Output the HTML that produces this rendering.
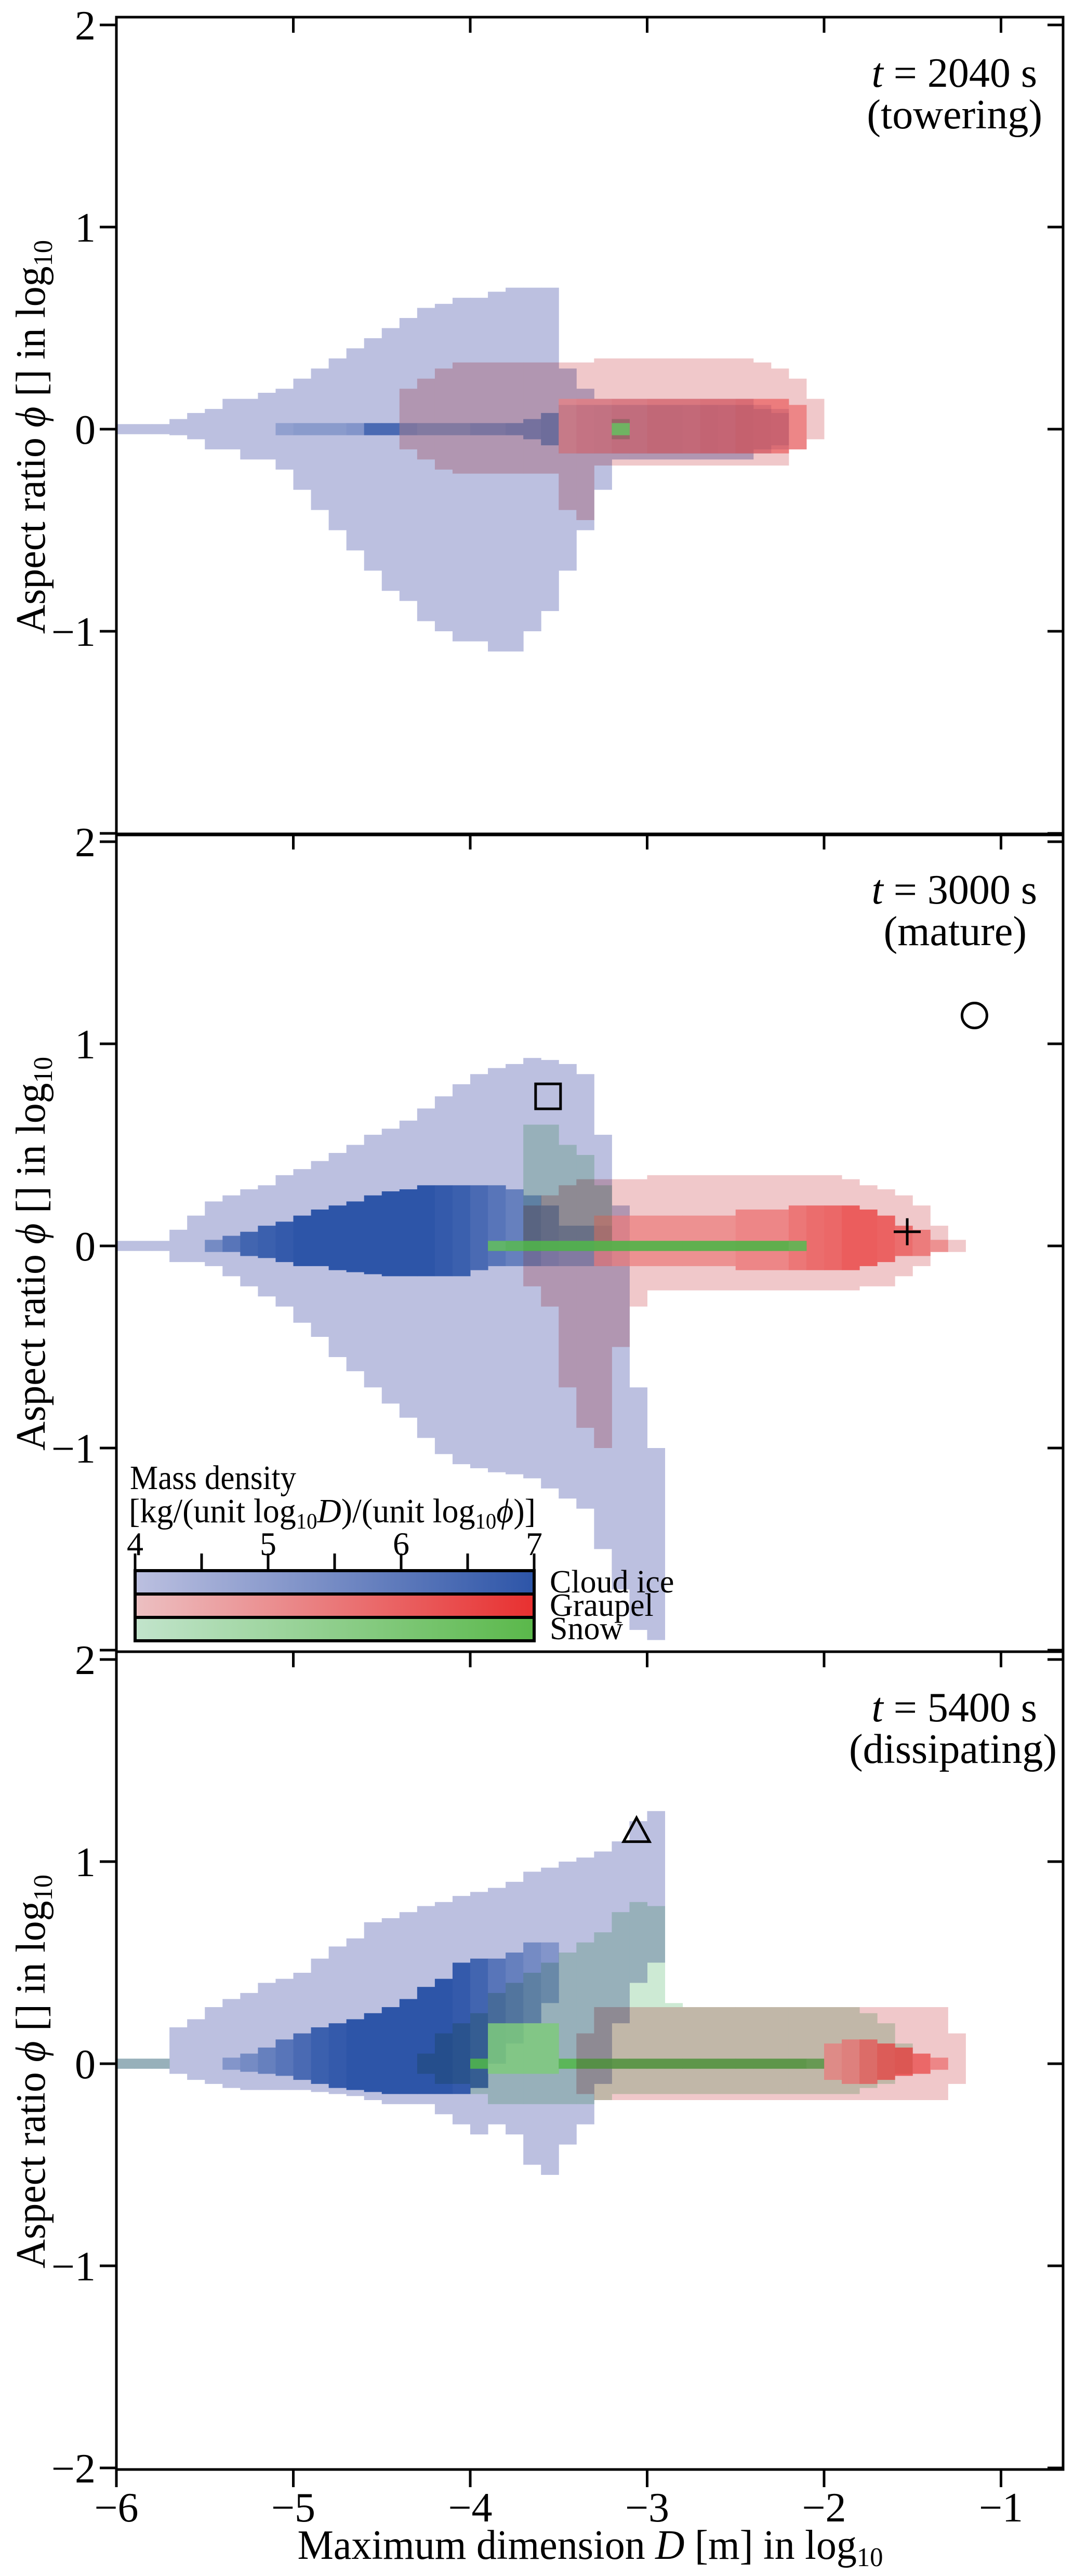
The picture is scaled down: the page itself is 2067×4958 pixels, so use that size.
<!DOCTYPE html>
<html><head><meta charset="utf-8">
<style>
html,body{margin:0;padding:0;background:#fff;}
svg{display:block;font-family:"Liberation Serif","DejaVu Serif",serif;}
</style></head>
<body>
<svg id="fig" width="2067" height="4958" viewBox="0 0 2067 4958" xmlns="http://www.w3.org/2000/svg">
<defs>
<linearGradient id="gIce" x1="0" x2="1"><stop offset="0" stop-color="#bcc0e0"/><stop offset="1" stop-color="#2d55a8"/></linearGradient>
<linearGradient id="gGra" x1="0" x2="1"><stop offset="0" stop-color="#ecc0c2"/><stop offset="1" stop-color="#e83030"/></linearGradient>
<linearGradient id="gSno" x1="0" x2="1"><stop offset="0" stop-color="#c2e4cc"/><stop offset="1" stop-color="#5ab84a"/></linearGradient>
</defs>
<rect x="0" y="0" width="2067" height="4958" fill="#fff"/>
<g id="cells" style="isolation:isolate"></g>
<g id="axes"></g>
</svg>
<script>
// ---- data (column start in log10 D, step 0.1) ----
// Panel 1 (t=2040 s)
const p1IceX   = [-6.0,-5.9,-5.8,-5.7,-5.6,-5.5,-5.4,-5.3,-5.2,-5.1,-5.0,-4.9,-4.8,-4.7,-4.6,-4.5,-4.4,-4.3,-4.2,-4.1,-4.0,-3.9,-3.8,-3.7,-3.6,-3.5,-3.4,-3.3,-3.2,-3.1,-3.0,-2.9,-2.8,-2.7,-2.6,-2.5,-2.4,-2.3];
const p1IceTop = [0.025,0.025,0.025,0.05,0.08,0.1,0.15,0.15,0.18,0.2,0.25,0.3,0.35,0.4,0.45,0.5,0.55,0.6,0.62,0.65,0.65,0.68,0.7,0.7,0.7,0.3,0.2,0.15,0.15,0.15,0.15,0.15,0.15,0.15,0.15,0.15,0.12,0.1];
const p1IceBot = [-0.025,-0.025,-0.025,-0.03,-0.05,-0.1,-0.1,-0.15,-0.15,-0.2,-0.3,-0.4,-0.5,-0.6,-0.7,-0.8,-0.85,-0.95,-1.0,-1.05,-1.05,-1.1,-1.1,-1.0,-0.9,-0.7,-0.5,-0.3,-0.15,-0.15,-0.15,-0.15,-0.15,-0.15,-0.15,-0.15,-0.12,-0.1];
const p1IceCT  = [0,0,0,0,0,0,0,0,0,0.03,0.03,0.03,0.03,0.03,0.03,0.03,0.03,0.03,0.03,0.03,0.03,0.03,0.03,0.05,0.08,0.12,0.12,0.12,0.12,0.12,0.12,0.12,0.12,0.12,0.12,0.12,0.1,0.08];
const p1IceCB  = [0,0,0,0,0,0,0,0,0,-0.03,-0.03,-0.03,-0.03,-0.03,-0.03,-0.03,-0.03,-0.03,-0.03,-0.03,-0.03,-0.03,-0.03,-0.05,-0.08,-0.12,-0.12,-0.12,-0.12,-0.12,-0.12,-0.12,-0.12,-0.12,-0.12,-0.12,-0.1,-0.08];
const p1IceLv  = [0,0,0,0,0,0,0,0,0,0.3,0.35,0.35,0.35,0.4,0.8,0.8,0.4,0.35,0.35,0.35,0.4,0.4,0.45,0.45,0.5,0.5,0.55,0.6,0.6,0.6,0.6,0.6,0.55,0.55,0.5,0.5,0.45,0.4];
const p1GraX   = [-4.4,-4.3,-4.2,-4.1,-4.0,-3.9,-3.8,-3.7,-3.6,-3.5,-3.4,-3.3,-3.2,-3.1,-3.0,-2.9,-2.8,-2.7,-2.6,-2.5,-2.4,-2.3,-2.2,-2.1];
const p1GraTop = [0.2,0.25,0.3,0.33,0.33,0.33,0.33,0.33,0.33,0.33,0.33,0.35,0.35,0.35,0.35,0.35,0.35,0.35,0.35,0.35,0.33,0.3,0.25,0.15];
const p1GraBot = [-0.1,-0.15,-0.2,-0.22,-0.22,-0.22,-0.22,-0.22,-0.22,-0.4,-0.45,-0.18,-0.18,-0.18,-0.18,-0.18,-0.18,-0.18,-0.18,-0.18,-0.18,-0.18,-0.1,-0.05];
const p1GraCT  = [0,0,0,0,0,0,0,0,0,0.15,0.15,0.15,0.15,0.15,0.15,0.15,0.15,0.15,0.15,0.15,0.15,0.15,0.12,0];
const p1GraCB  = [0,0,0,0,0,0,0,0,0,-0.12,-0.12,-0.12,-0.12,-0.12,-0.12,-0.12,-0.12,-0.12,-0.12,-0.12,-0.12,-0.12,-0.1,0];
const p1GraLv  = [0,0,0,0,0,0,0,0,0,0.45,0.5,0.5,0.55,0.55,0.6,0.6,0.6,0.65,0.65,0.7,0.7,0.7,0.6,0];
const p1SnoX   = [-3.2];
const p1SnoTop = [0.05];
const p1SnoBot = [-0.05];
const p1SnoCT  = [0.03];
const p1SnoCB  = [-0.03];
const p1SnoLv  = [0.8];

// Panel 2 (t=3000 s)
const p2IceX   = [-6.0,-5.9,-5.8,-5.7,-5.6,-5.5,-5.4,-5.3,-5.2,-5.1,-5.0,-4.9,-4.8,-4.7,-4.6,-4.5,-4.4,-4.3,-4.2,-4.1,-4.0,-3.9,-3.8,-3.7,-3.6,-3.5,-3.4,-3.3,-3.2,-3.1,-3.0];
const p2IceTop = [0.025,0.025,0.025,0.08,0.15,0.22,0.25,0.28,0.3,0.35,0.38,0.42,0.46,0.5,0.55,0.58,0.62,0.68,0.74,0.8,0.85,0.88,0.9,0.93,0.92,0.9,0.85,0.55,0.2,-0.7,-1.0];
const p2IceBot = [-0.025,-0.025,-0.025,-0.08,-0.08,-0.1,-0.15,-0.2,-0.25,-0.3,-0.38,-0.45,-0.55,-0.62,-0.7,-0.78,-0.85,-0.95,-1.03,-1.08,-1.1,-1.12,-1.13,-1.15,-1.2,-1.25,-1.3,-1.5,-1.7,-1.9,-1.95];
const p2IceCT  = [0,0,0,0,0,0.03,0.05,0.07,0.1,0.12,0.15,0.18,0.2,0.22,0.25,0.27,0.28,0.3,0.3,0.3,0.3,0.3,0.28,0.25,0.2,0.1,0.1,0.1,0,0,0];
const p2IceCB  = [0,0,0,0,0,-0.03,-0.03,-0.05,-0.06,-0.08,-0.1,-0.1,-0.12,-0.13,-0.14,-0.15,-0.15,-0.15,-0.15,-0.15,-0.12,-0.1,-0.1,-0.1,-0.1,-0.1,-0.1,-0.1,0,0,0];
const p2IceLv  = [0,0,0,0,0,0.5,0.7,0.85,0.9,0.95,1,1,1,1,1,1,1,1,0.95,0.9,0.8,0.7,0.6,0.5,0.4,0.35,0.35,0.35,0,0,0];
const p2GraX   = [-3.7,-3.6,-3.5,-3.4,-3.3,-3.2,-3.1,-3.0,-2.9,-2.8,-2.7,-2.6,-2.5,-2.4,-2.3,-2.2,-2.1,-2.0,-1.9,-1.8,-1.7,-1.6,-1.5,-1.4,-1.3];
const p2GraTop = [0.2,0.25,0.3,0.33,0.33,0.33,0.33,0.35,0.35,0.35,0.35,0.35,0.35,0.35,0.35,0.35,0.35,0.35,0.33,0.3,0.28,0.25,0.2,0.1,0.03];
const p2GraBot = [-0.2,-0.3,-0.7,-0.9,-1.0,-0.5,-0.3,-0.22,-0.22,-0.22,-0.22,-0.22,-0.22,-0.22,-0.22,-0.22,-0.22,-0.22,-0.22,-0.2,-0.2,-0.15,-0.1,-0.03,-0.03];
const p2GraCT  = [0,0,0,0,0.15,0.15,0.15,0.15,0.15,0.15,0.15,0.15,0.18,0.18,0.18,0.2,0.2,0.2,0.2,0.18,0.15,0.1,0.08,0.03,0];
const p2GraCB  = [0,0,0,0,-0.1,-0.1,-0.1,-0.1,-0.1,-0.1,-0.1,-0.1,-0.12,-0.12,-0.12,-0.12,-0.12,-0.12,-0.12,-0.1,-0.08,-0.05,-0.05,-0.03,0];
const p2GraLv  = [0,0,0,0,0.5,0.5,0.5,0.5,0.5,0.5,0.5,0.5,0.6,0.6,0.6,0.75,0.85,0.9,1,1,0.95,0.85,0.7,0.5,0];
const p2SnoX   = [-3.9,-3.8,-3.7,-3.6,-3.5,-3.4,-3.3,-3.2,-3.1,-3.0,-2.9,-2.8,-2.7,-2.6,-2.5,-2.4,-2.3,-2.2];
const p2SnoTop = [0.025,0.025,0.6,0.6,0.5,0.45,0.3,0.025,0.025,0.025,0.025,0.025,0.025,0.025,0.025,0.025,0.025,0.025];
const p2SnoBot = [-0.025,-0.025,-0.025,-0.025,-0.025,-0.025,-0.025,-0.025,-0.025,-0.025,-0.025,-0.025,-0.025,-0.025,-0.025,-0.025,-0.025,-0.025];
const p2SnoCT  = [0.025,0.025,0.025,0.025,0.025,0.025,0.025,0.025,0.025,0.025,0.025,0.025,0.025,0.025,0.025,0.025,0.025,0.025];
const p2SnoCB  = [-0.025,-0.025,-0.025,-0.025,-0.025,-0.025,-0.025,-0.025,-0.025,-0.025,-0.025,-0.025,-0.025,-0.025,-0.025,-0.025,-0.025,-0.025];
const p2SnoLv  = [0.8,0.9,1,1,1,1,1,1,1,1,1,1,1,1,1,1,1,0.9];

// Panel 3 (t=5400 s)
const p3IceX   = [-6.0,-5.9,-5.8,-5.7,-5.6,-5.5,-5.4,-5.3,-5.2,-5.1,-5.0,-4.9,-4.8,-4.7,-4.6,-4.5,-4.4,-4.3,-4.2,-4.1,-4.0,-3.9,-3.8,-3.7,-3.6,-3.5,-3.4,-3.3,-3.2,-3.1,-3.0];
const p3IceTop = [0.025,0.025,0.025,0.18,0.22,0.28,0.32,0.35,0.4,0.42,0.45,0.52,0.58,0.62,0.7,0.72,0.75,0.78,0.8,0.83,0.85,0.87,0.9,0.95,0.97,1.0,1.02,1.05,1.1,1.2,1.25];
const p3IceBot = [-0.025,-0.025,-0.025,-0.05,-0.08,-0.1,-0.12,-0.13,-0.13,-0.13,-0.13,-0.14,-0.15,-0.16,-0.18,-0.2,-0.2,-0.2,-0.25,-0.3,-0.35,-0.3,-0.35,-0.5,-0.55,-0.4,-0.3,-0.1,0.2,0.4,0.5];
const p3IceCT  = [0,0,0,0,0,0,0.03,0.05,0.08,0.12,0.15,0.18,0.2,0.22,0.25,0.28,0.32,0.38,0.42,0.5,0.52,0.52,0.55,0.6,0.6,0,0,0,0,0,0];
const p3IceCB  = [0,0,0,0,0,0,-0.03,-0.04,-0.05,-0.06,-0.08,-0.1,-0.12,-0.13,-0.14,-0.15,-0.15,-0.15,-0.15,-0.15,-0.12,0.0,0.1,0.2,0.3,0,0,0,0,0,0];
const p3IceLv  = [0,0,0,0,0,0,0.4,0.5,0.6,0.7,0.8,0.9,0.95,1,1,1,1,1,1,0.95,0.85,0.7,0.6,0.5,0.4,0,0,0,0,0,0];
const p3GraX   = [-3.4,-3.3,-3.2,-3.1,-3.0,-2.9,-2.8,-2.7,-2.6,-2.5,-2.4,-2.3,-2.2,-2.1,-2.0,-1.9,-1.8,-1.7,-1.6,-1.5,-1.4,-1.3];
const p3GraTop = [0.15,0.28,0.28,0.28,0.28,0.28,0.28,0.28,0.28,0.28,0.28,0.28,0.28,0.28,0.28,0.28,0.28,0.28,0.28,0.28,0.28,0.15];
const p3GraBot = [-0.15,-0.18,-0.18,-0.18,-0.18,-0.18,-0.18,-0.18,-0.18,-0.18,-0.18,-0.18,-0.18,-0.18,-0.18,-0.18,-0.18,-0.18,-0.18,-0.18,-0.18,-0.1];
const p3GraCT  = [0,0,0,0,0,0,0,0,0,0,0,0,0,0,0.1,0.12,0.12,0.1,0.08,0.05,0.03,0];
const p3GraCB  = [0,0,0,0,0,0,0,0,0,0,0,0,0,0,-0.08,-0.1,-0.1,-0.08,-0.06,-0.05,-0.03,0];
const p3GraLv  = [0,0,0,0,0,0,0,0,0,0,0,0,0,0,0.5,0.6,0.8,0.95,1,0.9,0.6,0];
const p3SnoX   = [-6.0,-5.9,-5.8,-4.3,-4.2,-4.1,-4.0,-3.9,-3.8,-3.7,-3.6,-3.5,-3.4,-3.3,-3.2,-3.1,-3.0,-2.9,-2.8,-2.7,-2.6,-2.5,-2.4,-2.3,-2.2,-2.1,-2.0,-1.9,-1.8,-1.7,-1.6];
const p3SnoTop = [0.025,0.025,0.025,0.05,0.15,0.2,0.25,0.35,0.4,0.45,0.5,0.55,0.6,0.65,0.75,0.8,0.78,0.3,0.28,0.28,0.28,0.28,0.28,0.28,0.28,0.28,0.28,0.28,0.25,0.2,0.1];
const p3SnoBot = [-0.025,-0.025,-0.025,-0.05,-0.1,-0.1,-0.15,-0.2,-0.2,-0.2,-0.2,-0.2,-0.2,-0.18,-0.15,-0.15,-0.15,-0.15,-0.15,-0.15,-0.15,-0.15,-0.15,-0.15,-0.15,-0.15,-0.15,-0.15,-0.12,-0.1,-0.05];
const p3SnoCT  = [0,0,0,0,0,0,0.025,0.2,0.2,0.2,0.2,0.025,0.025,0.025,0.025,0.025,0.025,0.025,0.025,0.025,0.025,0.025,0.025,0.025,0.025,0.025,0,0,0,0,0];
const p3SnoCB  = [0,0,0,0,0,0,-0.025,-0.05,-0.05,-0.05,-0.05,-0.025,-0.025,-0.025,-0.025,-0.025,-0.025,-0.025,-0.025,-0.025,-0.025,-0.025,-0.025,-0.025,-0.025,-0.025,0,0,0,0,0];
const p3SnoLv  = [0,0,0,0,0,0,1,0.6,0.6,0.6,0.6,1,1,1,1,1,1,1,1,1,1,1,1,1,1,0.9,0,0,0,0,0];

// markers [logD, logPhi]
const markSquare = [-3.56, 0.74];
const markCircle = [-1.15, 1.14];
const markPlus   = [-1.53, 0.07];
const markTri    = [-3.06, 1.15];

// axis tick values
const xTicks = [-6,-5,-4,-3,-2,-1];
const xTickLabels = ["\u22126","\u22125","\u22124","\u22123","\u22122","\u22121"];
const yTicks = [2,1,0,-1,-2];
const cbTicks = [4,5,6,7];
const panelTitles = ["2040","3000","5400"];
const panelStages = ["(towering)","(mature)","(dissipating)"];

// ---- layout ----
const NS="http://www.w3.org/2000/svg";
const L=224, R=2046, T=[33,1605,3179], PH=1574;
const X=v=>L+(v+6)*340.5;
const Y=(p,v)=>T[p]+15+(2-v)*389;
const cells=document.getElementById('cells');
const axes=document.getElementById('axes');
function mk(tag,attrs,parent){const e=document.createElementNS(NS,tag);for(const k in attrs)e.setAttribute(k,attrs[k]);parent.appendChild(e);return e;}
function hex(c){return [parseInt(c.slice(1,3),16),parseInt(c.slice(3,5),16),parseInt(c.slice(5,7),16)];}
function mix(a,b,t){const A=hex(a),B=hex(b);return 'rgb('+A.map((v,i)=>Math.round(v+(B[i]-v)*t)).join(',')+')';}
// [light, dark, envelope opacity, envelope blend, core opacity]
const SPEC={ice:['#bcc0e0','#2d55a8',1,'normal',1],gra:['#efc2c4','#e83030',0.9,'multiply',0.7],sno:['#c4e6cc','#50b848',0.85,'multiply',0.85]};
function drawSpecies(p,sp,xs,top,bot,ct,cb,lv){
  const [lc,dc,op,bm,cop]=SPEC[sp];
  const g=mk('g',{opacity:op,style:'mix-blend-mode:'+bm},cells);
  
  
  const gc=mk('g',{opacity:cop},cells);
  
  
  for(let i=0;i<xs.length;i++){
    const x0=X(xs[i]), w=X(xs[i]+0.1)-x0;
    const r=mk('rect',{x:x0,y:Y(p,top[i]),width:w+0.5,height:Math.max(2,Y(p,bot[i])-Y(p,top[i])),fill:lc},g);
    
    
    if(lv[i]>0 && ct[i]>cb[i]){
      const c=mk('rect',{x:x0,y:Y(p,ct[i]),width:w+0.5,height:Y(p,cb[i])-Y(p,ct[i]),fill:mix(lc,dc,lv[i])},gc);
      
      
    }
  }
}
drawSpecies(0,'ice',p1IceX,p1IceTop,p1IceBot,p1IceCT,p1IceCB,p1IceLv);
drawSpecies(0,'gra',p1GraX,p1GraTop,p1GraBot,p1GraCT,p1GraCB,p1GraLv);
drawSpecies(0,'sno',p1SnoX,p1SnoTop,p1SnoBot,p1SnoCT,p1SnoCB,p1SnoLv);
drawSpecies(1,'ice',p2IceX,p2IceTop,p2IceBot,p2IceCT,p2IceCB,p2IceLv);
drawSpecies(1,'gra',p2GraX,p2GraTop,p2GraBot,p2GraCT,p2GraCB,p2GraLv);
drawSpecies(1,'sno',p2SnoX,p2SnoTop,p2SnoBot,p2SnoCT,p2SnoCB,p2SnoLv);
drawSpecies(2,'ice',p3IceX,p3IceTop,p3IceBot,p3IceCT,p3IceCB,p3IceLv);
drawSpecies(2,'sno',p3SnoX,p3SnoTop,p3SnoBot,p3SnoCT,p3SnoCB,p3SnoLv);
drawSpecies(2,'gra',p3GraX,p3GraTop,p3GraBot,p3GraCT,p3GraCB,p3GraLv);

// ---- axes ----
for(let p=0;p<3;p++){
  const fr=mk('rect',{x:L,y:T[p],width:R-L,height:PH,fill:'none',stroke:'#000','stroke-width':5},axes);
  
  
  xTicks.forEach(v=>{ if(v>-6){ const t=mk('line',{x1:X(v),x2:X(v),y1:T[p],y2:T[p]+30,stroke:'#000','stroke-width':5},axes);
      }});
  yTicks.forEach((v,i)=>{
    const yy=Y(p,v);
    const t=mk('line',{x1:L-32,x2:L,y1:yy,y2:yy,stroke:'#000','stroke-width':5},axes);
     
    const t2=mk('line',{x1:R-30,x2:R,y1:yy,y2:yy,stroke:'#000','stroke-width':5},axes);
     
    if(v===-2 && p<2) return;
    const lab=mk('text',{x:L-40,y:yy+28,'font-size':80,'text-anchor':'end',fill:'#000'},axes);
    lab.textContent=(v<0?'\u2212':'')+Math.abs(v);
     
  });
  const yl=mk('text',{x:0,y:0,'font-size':80,'text-anchor':'middle',transform:'translate(86,'+(T[p]+808)+') rotate(-90)',textLength:758,lengthAdjust:'spacingAndGlyphs'},axes);
  yl.innerHTML='Aspect ratio <tspan font-style="italic">\u03d5</tspan> [] in log<tspan font-size="52" dy="14">10</tspan>';
   
  const t1=mk('text',{x:1996,y:T[p]+134,'font-size':80,'text-anchor':'end'},axes);
  t1.innerHTML='<tspan font-style="italic">t</tspan> = '+panelTitles[p]+' s';
   
  const t2=mk('text',{x:p===2?2034:(p===0?2006:1976),y:T[p]+214,'font-size':80,'text-anchor':'end'},axes);
  t2.textContent=panelStages[p];
   
}
const yb=T[2]+PH;
xTicks.forEach((v,i)=>{
  const t=mk('line',{x1:X(v),x2:X(v),y1:yb,y2:yb+34,stroke:'#000','stroke-width':5},axes);
   
  const lab=mk('text',{x:X(v),y:yb+100,'font-size':80,'text-anchor':'middle'},axes);
  lab.textContent=xTickLabels[i];
   
});
const xt=mk('text',{x:1136,y:4925,'font-size':80,'text-anchor':'middle',textLength:1127,lengthAdjust:'spacingAndGlyphs'},axes);
xt.innerHTML='Maximum dimension <tspan font-style="italic">D</tspan> [m] in log<tspan font-size="52" dy="14">10</tspan>';
 

const sq=mk('rect',{x:X(markSquare[0])-24,y:Y(1,markSquare[1])-24,width:48,height:48,fill:'none',stroke:'#000','stroke-width':5},axes);
 
const ci=mk('circle',{cx:X(markCircle[0]),cy:Y(1,markCircle[1]),r:24,fill:'none',stroke:'#000','stroke-width':5},axes);
 
const px=X(markPlus[0]), py=Y(1,markPlus[1]);
const pl=mk('path',{d:`M${px-26},${py}H${px+26}M${px},${py-26}V${py+26}`,stroke:'#000','stroke-width':5,fill:'none'},axes);
 
const tx=X(markTri[0]), ty=Y(2,markTri[1]);
const tr=mk('path',{d:`M${tx},${ty-26}L${tx+25},${ty+20}L${tx-25},${ty+20}Z`,stroke:'#000','stroke-width':5,fill:'none'},axes);
 

const lg=mk('g',{},axes);
 
const lt1=mk('text',{x:250,y:2866,'font-size':66,textLength:320,lengthAdjust:'spacingAndGlyphs'},lg);
lt1.textContent='Mass density';
 
const lt2=mk('text',{x:248,y:2930,'font-size':66,textLength:783,lengthAdjust:'spacingAndGlyphs'},lg);
lt2.innerHTML='[kg/(unit log<tspan font-size="42" dy="12">10</tspan><tspan dy="-12" font-style="italic">D</tspan>)/(unit log<tspan font-size="42" dy="12">10</tspan><tspan dy="-12" font-style="italic">\u03d5</tspan>)]';
 
const cbL=260, cbR=1028, CB=v=>cbL+(v-4)/3*(cbR-cbL);
cbTicks.forEach(v=>{
  const l=mk('text',{x:CB(v),y:2993,'font-size':64,'text-anchor':'middle'},lg);
  l.textContent=String(v);
   
});
for(let v=4;v<=7.001;v+=0.5){
  const t=mk('line',{x1:CB(v),x2:CB(v),y1:2990,y2:3023,stroke:'#000','stroke-width':5},lg);
   
}
const bars=[['gIce','Cloud ice'],['gGra','Graupel'],['gSno','Snow']];
bars.forEach((b,i)=>{
  const y0=3023+i*45;
  const r=mk('rect',{x:cbL,y:y0,width:cbR-cbL,height:45,fill:'url(#'+b[0]+')',stroke:'#000','stroke-width':6},lg);
  
  
  const t=mk('text',{x:1058,y:y0+42,'font-size':62},lg);
  t.textContent=b[1];
   
});
</script>
</body></html>
